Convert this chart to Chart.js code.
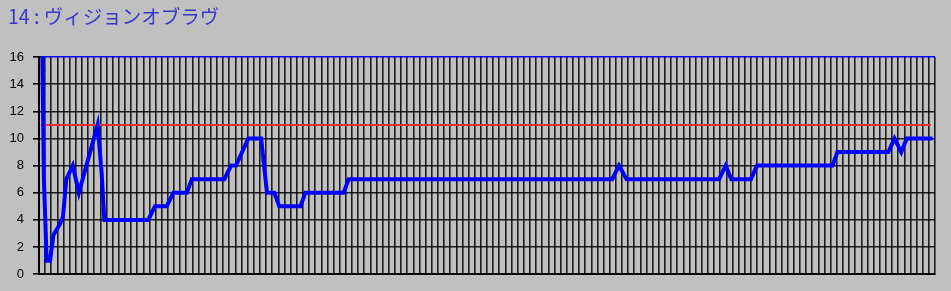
<!DOCTYPE html>
<html lang="ja">
<head>
<meta charset="UTF-8">
<title>14 : ヴィジョンオブラヴ</title>
<script src="https://cdn.jsdelivr.net/npm/chart.js"></script>
<style>
    html, body {
        margin: 0;
        padding: 0;
        background-color: #c0c0c0;
    }
    #wrap {
        width: 951px;
        height: 291px;
        position: relative;
    }
</style>
</head>
<body>
<div id="wrap"><canvas id="myChart"></canvas></div>
<script>
    // title and axis
    const chartTitle = '14 : ヴィジョンオブラヴ';
    const yTicks = [0, 2, 4, 6, 8, 10, 12, 14, 16];
    const xCount = 146;

    // blue series (x = position along the time axis, y = value)
    const blueX = [0.55, 0.8, 1.25, 1.8, 2.35, 3.3, 3.9, 4.45, 5.5, 6.5, 9.55, 10.2, 10.65,
        17.8, 18.9, 20.8, 21.9, 24.1, 24.9, 30.2, 31.3, 32.1, 34.1, 36.2, 37.15, 38.35, 39.15,
        42.6, 43.4, 49.65, 50.45, 93.4, 94.5, 95.75, 110.8, 111.9, 112.8, 116, 117,
        129.3, 130.1, 138.4, 139.4, 140.5, 141.4, 145.6];
    const blueY = [16, 7, 1, 1, 2.9, 3.6, 4.2, 7, 8, 6, 11, 7.5, 4,
        4, 5, 5, 6, 6, 7, 7, 8, 8, 10, 10, 6, 6, 5,
        5, 6, 6, 7, 7, 8, 7, 7, 8, 7, 7, 8,
        8, 9, 9, 10, 9, 10, 10];

    // red reference line
    const redX = [0.3, 145.3];
    const redY = [11, 11];

    const toPoints = (xs, ys) => xs.map((x, i) => ({ x: x, y: ys[i] }));

    const ctx = document.getElementById('myChart').getContext('2d');
    const myChart = new Chart(ctx, {
        type: 'line',
        data: {
            datasets: [
                {
                    label: 'blue',
                    data: toPoints(blueX, blueY),
                    borderColor: '#0000ff',
                    borderWidth: 4,
                    pointRadius: 0,
                    tension: 0,
                    fill: false,
                    order: 0
                },
                {
                    label: 'red',
                    data: toPoints(redX, redY),
                    borderColor: '#e83030',
                    borderWidth: 2,
                    pointRadius: 0,
                    fill: false,
                    order: 1
                }
            ]
        },
        options: {
            responsive: true,
            maintainAspectRatio: false,
            animation: false,
            layout: {
                padding: { left: 8, right: 16, top: 0, bottom: 16 }
            },
            plugins: {
                legend: { display: false },
                tooltip: { enabled: false },
                title: {
                    display: true,
                    text: chartTitle,
                    align: 'start',
                    color: '#3838c8',
                    font: { family: '"Noto Sans CJK JP", "Liberation Sans", sans-serif', size: 19.5, weight: 'normal' },
                    padding: { top: 5, bottom: 28.6 }
                }
            },
            scales: {
                x: {
                    type: 'linear',
                    min: 0,
                    max: xCount,
                    ticks: { display: false, stepSize: 1, autoSkip: false },
                    grid: {
                        color: 'rgba(0,0,0,0.85)',
                        lineWidth: 1.6,
                        drawTicks: false
                    },
                    border: { color: '#000', width: 2 }
                },
                y: {
                    min: 0,
                    max: 16,
                    afterFit: s => { s.width = 31; },
                    afterBuildTicks: s => { s.ticks = yTicks.map(v => ({ value: v })); },
                    ticks: {
                        color: '#000',
                        padding: 9,
                        font: { family: '"Liberation Sans", Arial, sans-serif', size: 13 }
                    },
                    grid: {
                        color: c => c.tick && c.tick.value === 16 ? '#0000ff' : 'rgba(0,0,0,0.85)',
                        lineWidth: 1.6,
                        tickLength: 6,
                        tickColor: '#000'
                    },
                    border: { color: '#000', width: 2 }
                }
            }
        }
    });
</script>
</body>
</html>
